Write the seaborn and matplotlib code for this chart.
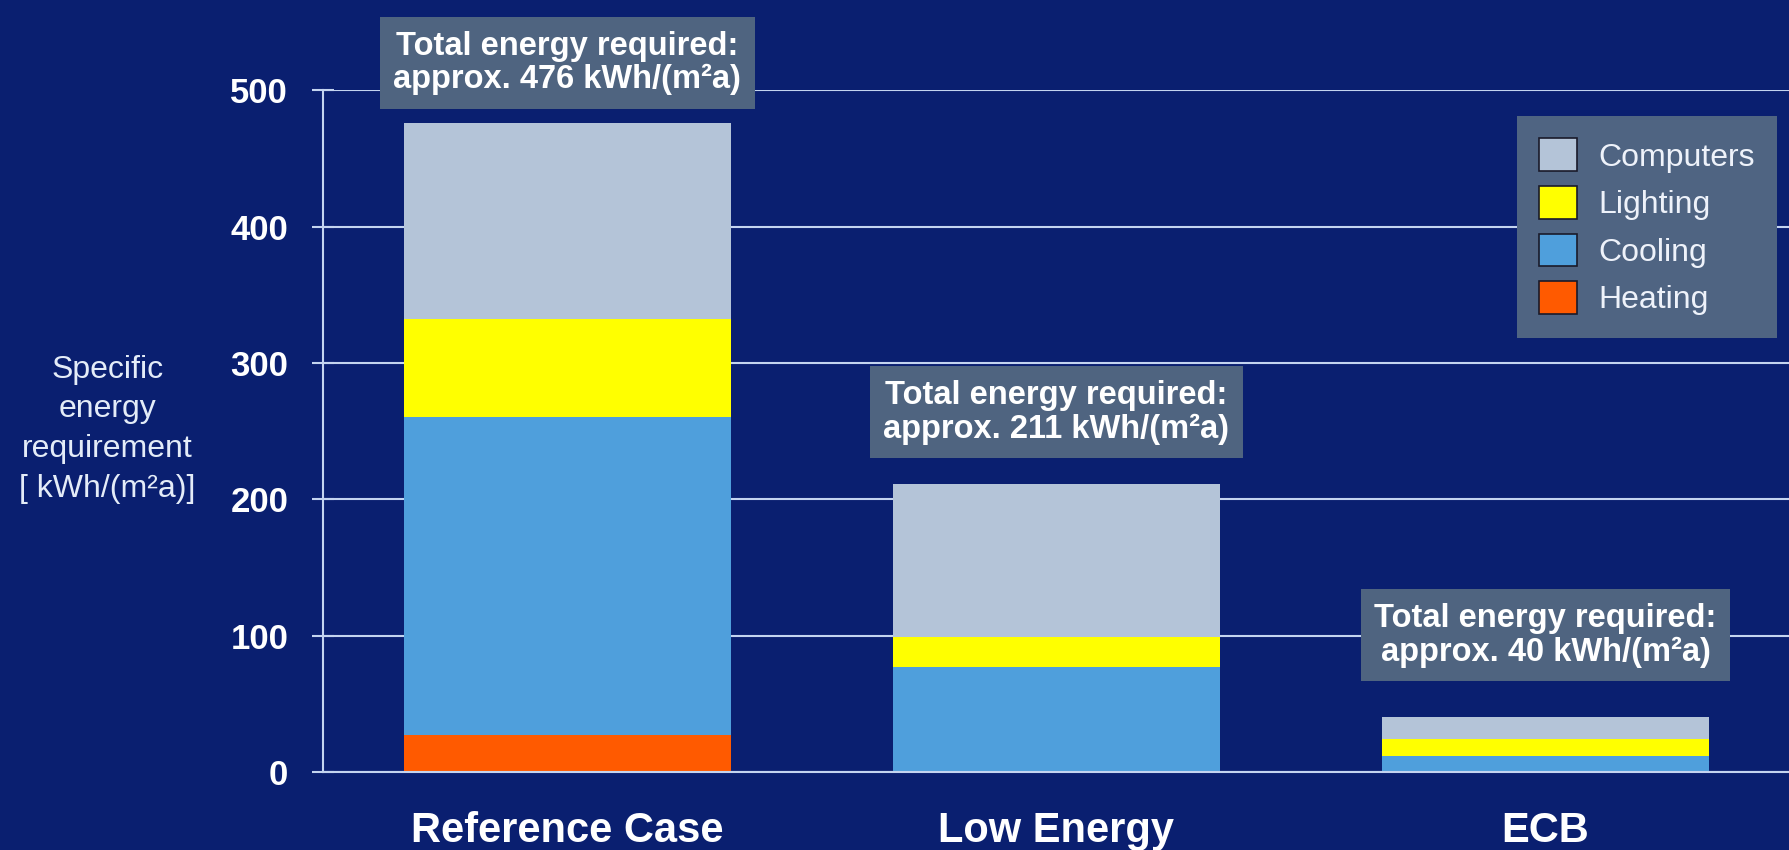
import pandas as pd
import matplotlib.pyplot as plt
import seaborn as sns
from matplotlib.patches import Patch

# values, kWh/(m2a)
cases = ["Reference Case", "Low Energy", "ECB"]
heating = [27, 0, 0]
cooling = [233, 77, 12]
lighting = [72, 22, 12]
computers = [144, 112, 16]
totals = [476, 211, 40]
y_ticks = [0, 100, 200, 300, 400, 500]

# how far (pixels) each total box sits above its bar
box_offsets = [60, 72, 82]

colors = {"Heating": "#ff5a00", "Cooling": "#4f9fdc",
          "Lighting": "#ffff00", "Computers": "#b4c4d8"}
bg = "#0a1f70"
line_col = "#c4d4f0"

df = pd.DataFrame({"case": cases, "Heating": heating, "Cooling": cooling,
                   "Lighting": lighting, "Computers": computers})
layers = ["Heating", "Cooling", "Lighting", "Computers"]
cum = df[layers].cumsum(axis=1)
cum["case"] = df["case"]

sns.set_style("dark", {"axes.facecolor": bg, "figure.facecolor": bg})
plt.rcParams["font.family"] = ["Liberation Sans", "DejaVu Sans"]

fig = plt.figure(figsize=(17.9, 8.5), dpi=100)
ax = fig.add_axes([0.1804, 0.0918, 0.8196, 0.802])
ax.set_facecolor(bg)

# grid behind the bars
ax.set_axisbelow(True)
ax.yaxis.grid(True, color=line_col, lw=1.5)

# stacked bars: draw cumulative heights from the top layer down
for name in reversed(layers):
    sns.barplot(data=cum, x="case", y=name, color=colors[name], saturation=1,
                width=0.67, edgecolor="none", ax=ax)

ax.set_ylim(0, 500)
ax.set_xlim(-0.5, 2.5)
ax.set_yticks(y_ticks)
ax.set_yticklabels([str(v) for v in y_ticks], fontsize=25, fontweight="bold", color="white")
ax.set_xticks(range(len(cases)))
ax.set_xticklabels(cases, fontsize=30, fontweight="bold", color="white")
ax.set_xticks([-0.5, 0.5, 1.5, 2.5], minor=True)
ax.tick_params(axis="x", which="major", length=0, pad=28)
ax.tick_params(axis="x", which="minor", direction="out", length=10, width=1.5, color=line_col)
ax.tick_params(axis="y", direction="inout", length=16, width=1.5, color=line_col, pad=17, left=True)
ax.set_xlabel("")
ax.set_ylabel("")

for side in ["top", "right"]:
    ax.spines[side].set_visible(False)
for side in ["left", "bottom"]:
    ax.spines[side].set_visible(True)
    ax.spines[side].set_color(line_col)
    ax.spines[side].set_linewidth(1.5)

# total energy boxes above each bar
for i, t in enumerate(totals):
    ax.annotate(f"Total energy required:\napprox. {t} kWh/(m²a)", xy=(i, t),
                xytext=(0, box_offsets[i]), textcoords="offset pixels", ha="center", va="center",
                fontsize=23.5, fontweight="bold", color="white", linespacing=1.1,
                annotation_clip=False,
                bbox=dict(boxstyle="square,pad=0.42", fc="#4f6480", ec="none"))

fig.text(0.06, 0.495, "Specific\nenergy\nrequirement\n[ kWh/(m²a)]", ha="center", va="center",
         fontsize=23, color="#e4ecf8", linespacing=1.42)

handles = [Patch(facecolor=colors[n], edgecolor="#1a1a2a", lw=1.2, label=n) for n in reversed(layers)]
leg = ax.legend(handles=handles, loc="upper right", bbox_to_anchor=(0.9927, 0.8635),
                bbox_transform=fig.transFigure, frameon=True, fancybox=False,
                borderaxespad=0, fontsize=23, handlelength=1.2, handleheight=1.2,
                labelspacing=0.42, handletextpad=0.65, borderpad=0.7)
leg.get_frame().set_facecolor("#4f6482")
leg.get_frame().set_edgecolor("none")
leg.get_frame().set_alpha(1)
for txt in leg.get_texts():
    txt.set_color("#eef2fa")

fig.savefig("out.png", dpi=100, facecolor=bg)
